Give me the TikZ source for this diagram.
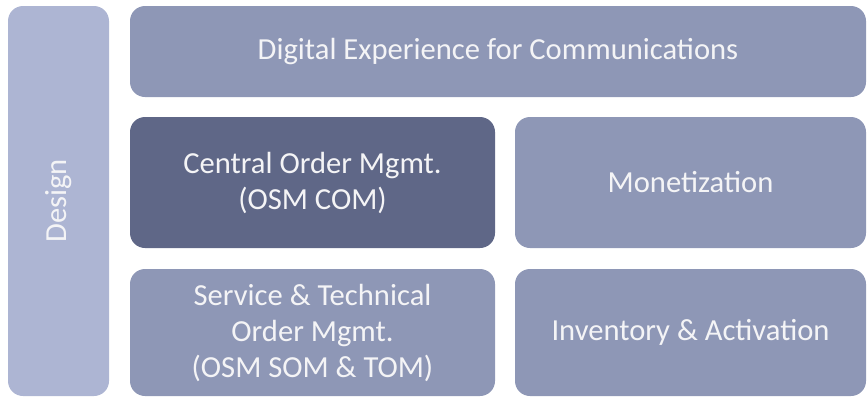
\documentclass[tikz,border=0pt]{standalone}
\usepackage{fontspec}
\setmainfont{Carlito}
\usepackage{tikz}
\usetikzlibrary{positioning}

\definecolor{designfill}{HTML}{ADB5D3}
\definecolor{tilefill}{HTML}{8E97B6}
\definecolor{comfill}{HTML}{5F6787}
\definecolor{tiletext}{HTML}{F4F4F6}

\tikzset{
    tile/.style={rectangle, rounded corners=7.5pt, fill=tilefill, text=tiletext,
        align=center, inner sep=0pt, font=\fontsize{15.3}{18}\selectfont},
}

\begin{document}
\begin{tikzpicture}[x=0.5pt, y=-0.5pt]
    \useasboundingbox (0,0) rectangle (867,398);

    \node[tile, fill=designfill, minimum width=50.5pt, minimum height=195pt] (design) at (58.5,201) {};
    \node[text=tiletext, rotate=90, font=\fontsize{15.3}{18}\selectfont] (designlbl) at (design.center) {Design};

    \node[tile, minimum width=368pt, minimum height=45.5pt] (dx) at (498,51.5) {Digital Experience for Communications};

    \node[tile, fill=comfill, minimum width=182.5pt, minimum height=65.5pt] (com) at (312.5,182.5) {Central Order Mgmt.\\(OSM COM)};
    \node[tile, minimum width=175.5pt, minimum height=65.5pt] (mon) at (690.5,182.5) {Monetization};

    \node[tile, minimum width=182.5pt, minimum height=63.5pt] (som) at (312.5,332.5) {Service \& Technical\\Order Mgmt.\\(OSM SOM \& TOM)};
    \node[tile, minimum width=175.5pt, minimum height=63.5pt] (inv) at (690.5,332.5) {Inventory \& Activation};
\end{tikzpicture}
\end{document}
